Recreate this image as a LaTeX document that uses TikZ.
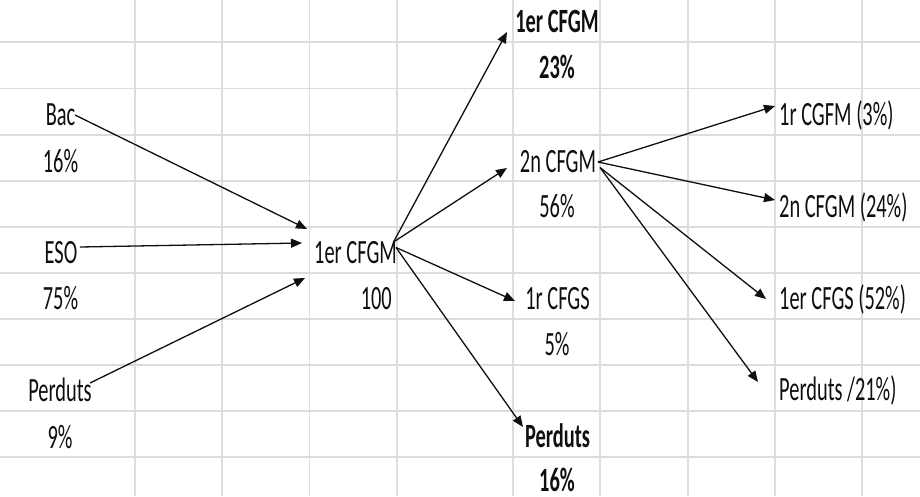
\documentclass[tikz,border=0pt]{standalone}
\usepackage{fontspec}
\setmainfont{Carlito}[FakeStretch=0.6]
\usetikzlibrary{arrows.meta}
\definecolor{gridc}{RGB}{220,220,220}
\definecolor{ink}{RGB}{15,15,15}
\begin{document}
\begin{tikzpicture}[x=1pt,y=-1pt,
  gridline/.style={draw=gridc,line width=1.6pt},
  txt/.style={inner sep=0pt,font=\fontsize{34}{40}\selectfont,text=ink},
  btxt/.style={txt,font=\fontsize{34}{40}\selectfont\bfseries},
  arr/.style={draw=ink,line width=1.3pt,-{Triangle[length=11pt,width=9pt]}}]
\useasboundingbox (0,0) rectangle (920,496);
\fill[white] (0,0) rectangle (920,496);
% spreadsheet grid
\foreach \gx in {135,222,309.5,397,513,600,688,775,862}
  \draw[gridline] (\gx,0) -- (\gx,496);
\foreach \gy in {42,88.5,135,181,227,273,319,365,411,457}
  \draw[gridline] (0,\gy) -- (920,\gy);
% left column
\node[txt,anchor=base] (bac)   at (60.5,125) {Bac};
\node[txt,anchor=base] (bacp)  at (60.5,172) {16\%};
\node[txt,anchor=base] (eso)   at (61,263) {ESO};
\node[txt,anchor=base] (esop)  at (60.5,309) {75\%};
\node[txt,anchor=base] (perd)  at (60,401) {Perduts};
\node[txt,anchor=base] (perdp) at (60,448) {9\%};
% centre
\node[txt,anchor=base west] (cfgm)  at (314,263) {1er CFGM};
\node[txt,anchor=base east] (cfgmn) at (392,309) {100};
% middle column
\node[btxt,anchor=base] (t1)  at (557,32) {1er CFGM};
\node[btxt,anchor=base] (t1p) at (557,78) {23\%};
\node[txt,anchor=base]  (t2)  at (558,172) {2n CFGM};
\node[txt,anchor=base]  (t2p) at (557,217) {56\%};
\node[txt,anchor=base]  (t3)  at (557.5,309) {1r CFGS};
\node[txt,anchor=base]  (t3p) at (557,355) {5\%};
\node[btxt,anchor=base] (t4)  at (557.5,447) {Perduts};
\node[btxt,anchor=base] (t4p) at (557,491) {16\%};
% right column
\node[txt,anchor=base west] (r1) at (779,125) {1r CGFM (3\%)};
\node[txt,anchor=base west] (r2) at (779,217) {2n CFGM (24\%)};
\node[txt,anchor=base west] (r3) at (779,309) {1er CFGS (52\%)};
\node[txt,anchor=base west] (r4) at (779,400) {Perduts /21\%)};
% connector end points
\coordinate (bacS) at (75,115);
\coordinate (esoS) at (80,247);
\coordinate (perdS) at (90,383);
\coordinate (inA) at (307,229);
\coordinate (inB) at (302,243);
\coordinate (inC) at (305,278);
\coordinate (cU) at (393.5,242);
\coordinate (cD) at (396,247.5);
\coordinate (t1T) at (507,32);
\coordinate (t2T) at (507,168);
\coordinate (t3T) at (515,301);
\coordinate (t4T) at (523,427);
\coordinate (sU) at (598,162);
\coordinate (sD) at (600,167.5);
\coordinate (r1T) at (775,106);
\coordinate (r2T) at (775,200);
\coordinate (r3T) at (766,299);
\coordinate (r4T) at (758,382);
% connectors
\draw[arr] (bacS) -- (inA);
\draw[arr] (esoS) -- (inB);
\draw[arr] (perdS) -- (inC);
\draw[arr] (cU) -- (t1T);
\draw[arr] (cU) -- (t2T);
\draw[arr] (cD) -- (t3T);
\draw[arr] (cD) -- (t4T);
\draw[arr] (sU) -- (r1T);
\draw[arr] (sU) -- (r2T);
\draw[arr] (sD) -- (r3T);
\draw[arr] (sD) -- (r4T);
\end{tikzpicture}
\end{document}
